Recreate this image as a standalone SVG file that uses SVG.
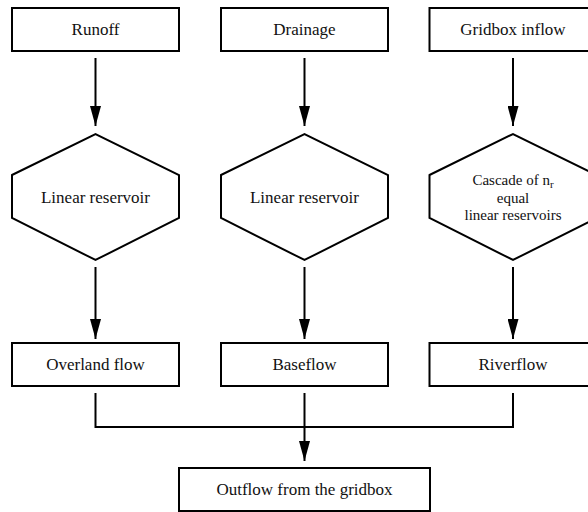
<svg xmlns="http://www.w3.org/2000/svg" width="588" height="512" viewBox="0 0 588 512">
<style>
.n{fill:#fff;stroke:#000;stroke-width:2}
.t{font-family:"Liberation Serif","DejaVu Serif",serif;font-size:17px;fill:#111;text-anchor:middle}
.s{font-size:15px}
.c{fill:none;stroke:#000;stroke-width:2}
</style>
<defs>
<marker id="ah" markerWidth="20" markerHeight="11" refX="20" refY="5.5" orient="auto" markerUnits="userSpaceOnUse" viewBox="0 0 20 11">
<path d="M0,0 L20,5.5 L0,11 Z" fill="#000"/>
</marker>
</defs>
<rect width="588" height="512" fill="#fff"/>
<g id="runoff"><rect class="n" x="12" y="8" width="167" height="43"/><text class="t" x="95.5" y="35">Runoff</text></g>
<g id="drainage"><rect class="n" x="221" y="8" width="167" height="43"/><text class="t" x="304.5" y="35">Drainage</text></g>
<g id="gridbox-inflow"><rect class="n" x="429.5" y="8" width="167" height="43"/><text class="t" x="513" y="35">Gridbox inflow</text></g>
<g id="linear-reservoir-1"><polygon class="n" points="12,175 95.5,134 179,175 179,218 95.5,260 12,218"/><text class="t" x="95.5" y="203">Linear reservoir</text></g>
<g id="linear-reservoir-2"><polygon class="n" points="221,175 304.5,134 388,175 388,218 304.5,260 221,218"/><text class="t" x="304.5" y="203">Linear reservoir</text></g>
<g id="cascade"><polygon class="n" points="429.5,175 513,134 596.5,175 596.5,218 513,260 429.5,218"/>
<text class="t s" x="513" y="185">Cascade of n<tspan font-size="11" dy="3">r</tspan></text>
<text class="t s" x="513" y="202.5">equal</text>
<text class="t s" x="513" y="220">linear reservoirs</text></g>
<g id="overland-flow"><rect class="n" x="12" y="343" width="167" height="43"/><text class="t" x="95.5" y="370">Overland flow</text></g>
<g id="baseflow"><rect class="n" x="221" y="343" width="167" height="43"/><text class="t" x="304.5" y="370">Baseflow</text></g>
<g id="riverflow"><rect class="n" x="429.5" y="343" width="167" height="43"/><text class="t" x="513" y="370">Riverflow</text></g>
<g id="outflow"><rect class="n" x="179" y="468" width="251" height="43"/><text class="t" x="304.5" y="495">Outflow from the gridbox</text></g>
<g id="connectors">
<path class="c" d="M95.5,58 V126" marker-end="url(#ah)"/>
<path class="c" d="M304.5,58 V126" marker-end="url(#ah)"/>
<path class="c" d="M513,58 V126" marker-end="url(#ah)"/>
<path class="c" d="M95.5,267 V339" marker-end="url(#ah)"/>
<path class="c" d="M304.5,267 V339" marker-end="url(#ah)"/>
<path class="c" d="M513,267 V339" marker-end="url(#ah)"/>
<path class="c" d="M95.5,393 V427 H513 V393"/>
<path class="c" d="M304.5,393 V461" marker-end="url(#ah)"/>
</g>
</svg>
